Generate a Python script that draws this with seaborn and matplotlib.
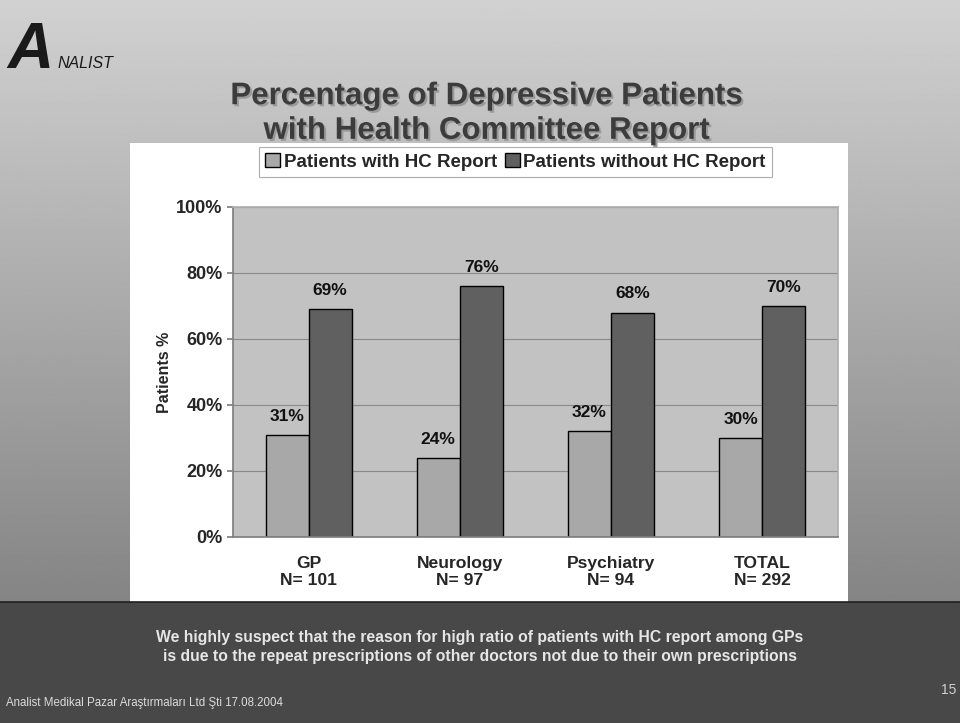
import matplotlib
matplotlib.use("Agg")
import matplotlib.pyplot as plt
import matplotlib.patches as mpatches
import matplotlib.patheffects as pe
import numpy as np
import pandas as pd
import seaborn as sns

# Chart data
categories = ["GP\nN= 101", "Neurology\nN= 97", "Psychiatry\nN= 94", "TOTAL\nN= 292"]
with_hc = [31, 24, 32, 30]
without_hc = [69, 76, 68, 70]
series_names = ["Patients with HC Report", "Patients without HC Report"]
y_ticks = [0, 20, 40, 60, 80, 100]

sns.set_theme(style="white")
plt.rcParams["font.family"] = ["Liberation Sans", "DejaVu Sans"]

df = pd.DataFrame({
    "category": categories * 2,
    "series": [series_names[0]] * 4 + [series_names[1]] * 4,
    "value": with_hc + without_hc,
})

fig = plt.figure(figsize=(9.6, 7.23), dpi=100)

# Slide background: light-to-dark gray gradient with a dark band at the bottom
bg = fig.add_axes([0, 0, 1, 1])
grad = np.linspace(0.82, 0.52, 256).reshape(-1, 1)
bg.imshow(grad, cmap="gray", vmin=0, vmax=1, aspect="auto",
          extent=[0, 1, 0.1674, 1])
bg.add_patch(mpatches.Rectangle((0, 0), 1, 0.1674, color="#484848"))
bg.axhline(0.1674, color="#202020", lw=1.2)
bg.set_xlim(0, 1)
bg.set_ylim(0, 1)
bg.axis("off")

# White chart area
bg.add_patch(mpatches.Rectangle((0.1354, 0.1674), 0.7479, 0.635,
                                facecolor="white", edgecolor="none"))

# Logo
bg.text(0.008, 0.906, "A", fontsize=46, fontweight="bold", fontstyle="italic",
        color="#1a1a1a", ha="left", va="baseline")
bg.text(0.060, 0.906, "NALIST", fontsize=11.5, fontstyle="italic",
        color="#1a1a1a", ha="left", va="baseline")

# Title with a soft shadow
title = "Percentage of Depressive Patients\nwith Health Committee Report"
bg.text(0.507, 0.843, title, fontsize=22.5, fontweight="bold", color="#3c3c3c",
        ha="center", va="center", linespacing=1.2,
        path_effects=[pe.withSimplePatchShadow(offset=(1.5, -1.5),
                                               shadow_rgbFace="#9a9a9a", alpha=1)])

ax = fig.add_axes([0.2427, 0.2573, 0.630, 0.4564])
sns.barplot(data=df, x="category", y="value", hue="series", ax=ax,
            palette=["#a8a8a8", "#606060"], width=0.57,
            edgecolor="black", linewidth=1, saturation=1)
ax.set_facecolor("#c2c2c2")
ax.set_ylim(0, 100)
ax.set_yticks(y_ticks)
ax.set_yticklabels([f"{t}%" for t in y_ticks], fontsize=13, fontweight="bold")
ax.yaxis.grid(True, color="#8a8a8a", lw=0.8)
ax.set_axisbelow(True)
for lbl in ax.get_xticklabels():
    lbl.set_fontsize(12.6)
    lbl.set_fontweight("bold")
    lbl.set_linespacing(1.1)
ax.tick_params(axis="x", pad=14, length=0)
ax.tick_params(axis="y", length=4, left=True, color="#808080")
ax.set_xlabel("")
ax.set_ylabel("Patients %", fontsize=11.5, fontweight="bold", labelpad=3)
for side in ["top", "right"]:
    ax.spines[side].set_color("#b0b0b0")
for side in ["left", "bottom"]:
    ax.spines[side].set_color("#808080")

for container in ax.containers:
    ax.bar_label(container, fmt="%.0f%%", padding=8, fontsize=12.5,
                 fontweight="bold", color="#111111")

leg = ax.legend(loc="center", bbox_to_anchor=(0.537, 0.776),
                bbox_transform=fig.transFigure, ncol=2, frameon=True,
                fancybox=False, edgecolor="#999999", handlelength=0.8,
                handleheight=0.8, handletextpad=0.2, columnspacing=0.4,
                borderpad=0.35, prop={"size": 13.5, "weight": "bold"})
leg.get_frame().set_linewidth(0.8)

# Bottom comment and footer
bg.text(0.5, 0.105, "We highly suspect that the reason for high ratio of patients with HC report among GPs\n"
        "is due to the repeat prescriptions of other doctors not due to their own prescriptions",
        fontsize=11.3, fontweight="bold", color="#e6e6e6", ha="center", va="center",
        linespacing=1.3)
bg.text(0.006, 0.028, "Analist Medikal Pazar Araştırmaları Ltd Şti 17.08.2004",
        fontsize=8.3, color="#dcdcdc", ha="left", va="center")
bg.text(0.996, 0.045, "15", fontsize=10, color="#d0d0d0", ha="right", va="center")

fig.savefig("out.png", dpi=100)
